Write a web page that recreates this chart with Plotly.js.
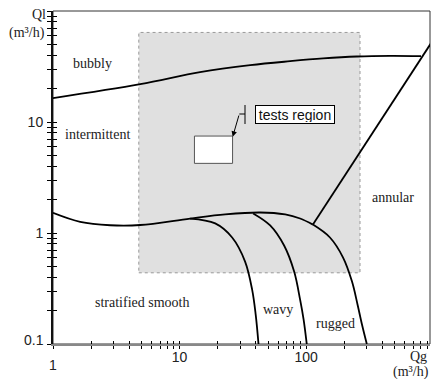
<!DOCTYPE html>
<html><head><meta charset="utf-8">
<script src="https://cdn.plot.ly/plotly-3.0.1.min.js"></script>
<style>html,body{margin:0;padding:0;background:#fff}#chart{width:432px;height:379px}</style>
</head><body><div id="chart"></div>
<script>
// ---- data (Qg, Ql in m3/h) ----
const bubblyQg = [1, 4.89, 14.5, 36.1, 74.6, 136, 251, 459, 807];
const bubblyQl = [16.4, 21.9, 28.1, 32.5, 35.3, 37.4, 38.9, 39.4, 39.2];
const stratQg = [1, 1.64, 2.83, 4.89, 12.1, 22.9, 43.3, 68.2, 89.5, 113];
const stratQl = [1.52, 1.26, 1.175, 1.18, 1.35, 1.47, 1.53, 1.47, 1.35, 1.19];
const annularQg = [113, 968];
const annularQl = [1.19, 51.3];
const smoothWavyQg = [12.1, 19.1, 26.0, 32.9, 37.4, 39.9, 42.0];
const smoothWavyQl = [1.35, 1.22, 0.911, 0.553, 0.309, 0.184, 0.1];
const wavyRuggedQg = [38.1, 51.9, 66.9, 80.3, 89.5, 95.4, 101];
const wavyRuggedQl = [1.50, 1.17, 0.771, 0.449, 0.251, 0.166, 0.1];
const ruggedAnnularQg = [113, 154, 195.5, 230, 254.5, 276, 301];
const ruggedAnnularQl = [1.19, 0.911, 0.601, 0.365, 0.226, 0.149, 0.1];
const testAreaQg = [4.76, 266];
const testAreaQl = [0.438, 64.1];
const testBoxQg = [13.1, 26.2];
const testBoxQl = [4.24, 7.47];
const xTickVals = [1,2,3,4,5,6,7,8,9,10,20,30,40,50,60,70,80,90,100,200,300,400,500,600,700,800,900];
const xTickText = ['','','','','','','','','','10','','','','','','','','','100','','','','','','','',''];
const yTickVals = [0.1,0.2,0.3,0.4,0.5,0.6,0.7,0.8,0.9,1,2,3,4,5,6,7,8,9,10,20,30,40,50,60,70,80,90,100];
const yTickText = ['','','','','','','','','','1','','','','','','','','','10','','','','','','','','',''];
const cornerLabels = ['0.1', '1'];
const regionLabels = ['bubbly','intermittent','stratified smooth','wavy','rugged','annular'];

// ---- layout helpers (pixel -> paper) ----
const L = 53, R = 2, T = 11, B = 35, W = 432, H = 379;
const pw = W - L - R, ph = H - T - B;
const P = x => (x - L) / pw;
const Q = y => (H - B - y) / ph;

function rect(qx, qy) {
  return { x: [qx[0], qx[1], qx[1], qx[0], qx[0]], y: [qy[0], qy[0], qy[1], qy[1], qy[0]] };
}
const lineStyle = { color: '#000', width: 1.8, shape: 'spline', smoothing: 1 };
function curve(x, y) {
  return { x: x, y: y, type: 'scatter', mode: 'lines', line: lineStyle, hoverinfo: 'skip', showlegend: false };
}
const area = rect(testAreaQg, testAreaQl);
const box = rect(testBoxQg, testBoxQl);

const traces = [
  { x: area.x, y: area.y, type: 'scatter', mode: 'lines', fill: 'toself', fillcolor: '#e0e0e0',
    line: { color: '#999', width: 1, dash: 'dot' }, showlegend: false, hoverinfo: 'skip' },
  { x: box.x, y: box.y, type: 'scatter', mode: 'lines', fill: 'toself', fillcolor: '#fff',
    line: { color: '#555', width: 1 }, showlegend: false, hoverinfo: 'skip' },
  curve(bubblyQg, bubblyQl),
  curve(stratQg, stratQl),
  { x: annularQg, y: annularQl, type: 'scatter', mode: 'lines', line: { color: '#000', width: 1.8 }, showlegend: false, hoverinfo: 'skip' },
  curve(smoothWavyQg, smoothWavyQl),
  curve(wavyRuggedQg, wavyRuggedQl),
  curve(ruggedAnnularQg, ruggedAnnularQl),
  { x: [], y: [], xaxis: 'x2', yaxis: 'y2', type: 'scatter', showlegend: false }
];

const serif = 'Liberation Serif, Times New Roman, serif';
const sans = 'Liberation Sans, Arial, sans-serif';
const labelPos = [[92, 63], [97, 134], [142.5, 302], [278, 309], [335.5, 323], [393, 197]];
const annotations = regionLabels.map((t, i) => ({
  text: t, xref: 'paper', yref: 'paper', x: P(labelPos[i][0]), y: Q(labelPos[i][1]),
  xanchor: 'center', yanchor: 'middle', showarrow: false,
  font: { family: serif, size: 14, color: '#222' }
}));
const titleFont = { family: serif, size: 14, color: '#222' };
[['Ql', 48, 15], ['(m³/h)', 47, 33], ['Qg', 429, 357], ['(m³/h)', 431, 372]].forEach(a => {
  annotations.push({ text: a[0], xref: 'paper', yref: 'paper', x: P(a[1]), y: Q(a[2]), xanchor: 'right',
    yanchor: 'middle', showarrow: false, font: titleFont });
});
// corner tick labels (offset in the original to avoid overlap)
annotations.push({ text: cornerLabels[0], xref: 'paper', yref: 'paper', x: P(46), y: Q(339.5), xanchor: 'right',
  yanchor: 'middle', showarrow: false, font: { family: sans, size: 14, color: '#222' } });
annotations.push({ text: cornerLabels[1], xref: 'paper', yref: 'paper', x: P(52.7), y: Q(365), xanchor: 'center',
  yanchor: 'middle', showarrow: false, font: { family: sans, size: 14, color: '#222' } });
annotations.push({
  text: 'tests region', xref: 'paper', yref: 'paper', x: P(295), y: Q(114.5), xanchor: 'center', yanchor: 'middle',
  showarrow: false, bgcolor: '#fff', bordercolor: '#000', borderwidth: 1, borderpad: 1, width: 76, height: 15,
  font: { family: sans, size: 14, color: '#111' }
});
annotations.push({
  text: '', xref: 'paper', yref: 'paper', x: P(232.7), y: Q(136.7), ax: 6.6, ay: -22.7,
  showarrow: true, arrowhead: 2, arrowsize: 1.1, arrowwidth: 1, arrowcolor: '#000', standoff: 0
});

const shapes = [
  { type: 'rect', xref: 'paper', yref: 'paper', x0: 0, x1: 1, y0: 0, y1: 1, line: { color: '#333', width: 1 }, layer: 'below' },
  { type: 'line', xref: 'paper', yref: 'paper', x0: P(245), x1: P(245), y0: Q(105), y1: Q(124), line: { color: '#000', width: 1 } },
  { type: 'line', xref: 'paper', yref: 'paper', x0: P(239.3), x1: P(245), y0: Q(114), y1: Q(114), line: { color: '#000', width: 1 } }
];

const xr = [0, Math.log10(950)];
const yr = [-1, 2];
const tickFont = { family: sans, size: 14, color: '#222' };
const layout = {
  width: W, height: H, margin: { l: L, r: R, t: T, b: B, pad: 0 },
  paper_bgcolor: '#fff', plot_bgcolor: '#fff', showlegend: false,
  xaxis: { type: 'log', range: xr, tickvals: xTickVals, ticktext: xTickText, ticks: 'outside', ticklen: 3,
    tickcolor: '#000', tickwidth: 1, showline: true, linecolor: '#888', linewidth: 2, showgrid: false,
    zeroline: false, tickfont: tickFont, ticklabelstandoff: -4, fixedrange: true },
  yaxis: { type: 'log', range: yr, tickvals: yTickVals, ticktext: yTickText, ticks: 'outside', ticklen: 4,
    tickcolor: '#000', tickwidth: 1, showline: true, linecolor: '#111', linewidth: 2, showgrid: false,
    zeroline: false, tickfont: tickFont, ticklabelstandoff: 1, fixedrange: true },
  xaxis2: { type: 'log', range: xr, overlaying: 'x', anchor: 'y2', side: 'bottom', tickvals: xTickVals,
    ticks: 'inside', ticklen: 3, tickcolor: '#000', showticklabels: false, showline: false, showgrid: false, zeroline: false },
  yaxis2: { type: 'log', range: yr, overlaying: 'y', anchor: 'x2', side: 'left', tickvals: yTickVals,
    ticks: 'inside', ticklen: 4, tickcolor: '#000', showticklabels: false, showline: false, showgrid: false, zeroline: false },
  annotations: annotations, shapes: shapes
};
Plotly.newPlot('chart', traces, layout, { staticPlot: true, displayModeBar: false });
</script></body></html>
